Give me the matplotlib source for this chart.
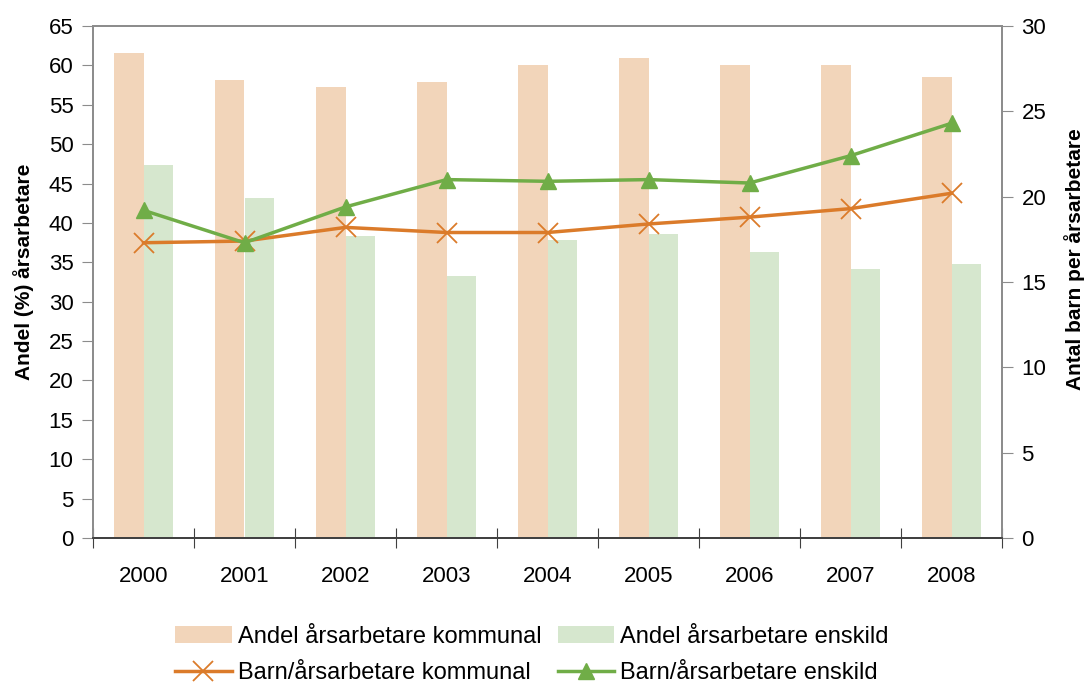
import matplotlib
matplotlib.use('Agg')
import matplotlib.pyplot as plt
import numpy as np

years = ['2000', '2001', '2002', '2003', '2004', '2005', '2006', '2007', '2008']

andel_kommunal = [61.6, 58.1, 57.2, 57.9, 60.0, 61.0, 60.0, 60.0, 58.5]
andel_enskild = [47.4, 43.2, 38.4, 33.2, 37.8, 38.6, 36.3, 34.2, 34.8]

barn_kommunal = [17.3, 17.4, 18.2, 17.9, 17.9, 18.4, 18.8, 19.3, 20.2]
barn_enskild = [19.2, 17.3, 19.4, 21.0, 20.9, 21.0, 20.8, 22.4, 24.3]

plt.rcParams['font.family'] = ['Liberation Sans', 'DejaVu Sans']

c_bar_k = '#F2D5BA'
c_bar_e = '#D6E7CE'
c_line_k = '#DB7B2A'
c_line_e = '#70AD47'
grey = '#8C8C8C'

fig = plt.figure(figsize=(10.84, 6.84), dpi=100)
ax = fig.add_axes([93/1084, 1 - 538/684, (1002 - 93)/1084, (538 - 26)/684])
ax2 = ax.twinx()

x = np.arange(len(years))
w = 0.29
b1 = ax.bar(x - w/2, andel_kommunal, w, color=c_bar_k, label='Andel årsarbetare kommunal', zorder=2)
b2 = ax.bar(x + w/2, andel_enskild, w, color=c_bar_e, label='Andel årsarbetare enskild', zorder=2)

l1, = ax2.plot(x, barn_kommunal, color=c_line_k, lw=2.5, marker='x', ms=14, mew=1.3,
               label='Barn/årsarbetare kommunal')
l2, = ax2.plot(x, barn_enskild, color=c_line_e, lw=2.5, marker='^', ms=12,
               label='Barn/årsarbetare enskild')

ax.set_xlim(-0.5, len(years) - 0.5)
ax.set_ylim(0, 65)
ax.set_yticks(np.arange(0, 66, 5))
ax2.set_ylim(0, 30)
ax2.set_yticks(np.arange(0, 31, 5))

ax.set_xticks(x)
ax.set_xticklabels(years)
ax.set_xticks(np.arange(-0.5, len(years)), minor=True)
ax.tick_params(axis='x', which='major', length=0, pad=20, labelsize=16)
ax.tick_params(axis='x', which='minor', direction='inout', length=15, width=0.8, color='#404040')
ax.tick_params(axis='y', direction='out', length=8, color=grey, labelsize=16, pad=6)
ax2.tick_params(axis='y', direction='out', length=8, color=grey, labelsize=16, pad=6)

for a in (ax, ax2):
    for s in ('left', 'right', 'top'):
        a.spines[s].set_color(grey)
        a.spines[s].set_linewidth(1.3)
    a.spines['bottom'].set_color('#404040')
    a.spines['bottom'].set_linewidth(1.3)

ax.set_ylabel('Andel (%) årsarbetare', fontsize=15, fontweight='bold', va='center')
ax.yaxis.set_label_coords((24 - 93)/909, 0.52)
ax2.set_ylabel('Antal barn per årsarbetare', fontsize=15, fontweight='bold', va='center')
ax2.yaxis.set_label_coords((1075 - 93)/909, 0.545)

fig.legend([b1, l1, b2, l2],
           ['Andel årsarbetare kommunal', 'Barn/årsarbetare kommunal',
            'Andel årsarbetare enskild', 'Barn/årsarbetare enskild'],
           ncol=2, loc='center', bbox_to_anchor=(532/1084, 1 - 655/684),
           frameon=False, fontsize=17, handlelength=2.4, handletextpad=0.25,
           columnspacing=0.7, labelspacing=0.6, borderpad=0.1)

fig.savefig('out.png', dpi=100)
